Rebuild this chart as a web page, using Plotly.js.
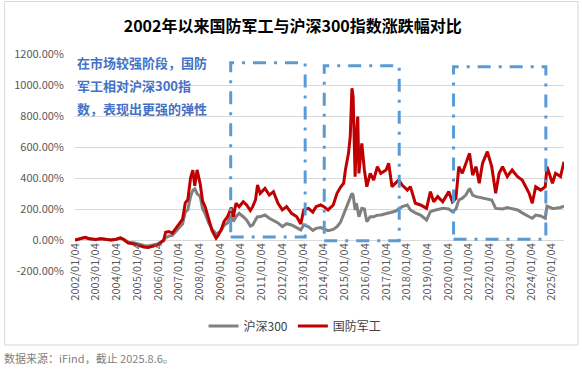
<!DOCTYPE html>
<html>
<head>
<meta charset="utf-8">
<script src="https://cdn.plot.ly/plotly-3.0.1.min.js"></script>
<style>html,body{margin:0;padding:0;background:#fff;}#chart{width:582px;height:371px;}</style>
</head>
<body>
<div id="chart"></div>
<script>
// ---- data ----
const dates = ['2002-01-04','2002-03-01','2002-05-01','2002-07-01','2002-09-01','2002-11-01','2003-01-01','2003-04-01','2003-07-01','2003-10-01',
'2004-01-01','2004-03-15','2004-05-15','2004-08-01','2004-11-01','2005-02-01','2005-05-01','2005-07-15','2005-10-15','2006-01-01',
'2006-03-01','2006-04-15','2006-05-20','2006-07-15','2006-09-15','2006-11-15','2007-01-15','2007-03-15','2007-05-01','2007-06-15',
'2007-08-01','2007-09-10','2007-10-15','2007-11-25','2008-01-20','2008-03-01','2008-04-15','2008-06-15','2008-08-15','2008-10-25',
'2008-12-01','2009-01-20','2009-03-15','2009-05-15','2009-07-20','2009-08-25','2009-10-10','2009-12-05','2010-02-15','2010-04-15',
'2010-06-20','2010-08-01','2010-09-20','2010-10-25','2010-12-10','2011-03-05','2011-05-20','2011-08-01','2011-10-20','2012-01-05',
'2012-03-20','2012-06-15','2012-09-15','2012-11-25','2013-01-15','2013-04-10','2013-06-25','2013-08-20','2013-11-10','2014-01-05',
'2014-03-20','2014-06-20','2014-08-25','2014-10-25','2014-12-20','2015-01-20','2015-03-15','2015-04-15','2015-05-15','2015-06-05',
'2015-06-25','2015-07-10','2015-08-01','2015-08-25','2015-09-15','2015-11-05','2015-12-20','2016-02-01','2016-04-01','2016-06-01',
'2016-08-05','2016-10-05','2017-01-05','2017-02-20','2017-04-20','2017-06-15','2017-08-15','2017-10-15','2018-01-15','2018-03-10',
'2018-06-05','2018-09-05','2018-12-20','2019-02-25','2019-04-25','2019-07-05','2019-10-01','2020-01-15','2020-03-20','2020-05-20',
'2020-07-10','2020-09-10','2020-11-10','2021-01-15','2021-03-10','2021-05-10','2021-07-05','2021-09-01','2021-11-25','2022-02-10',
'2022-04-20','2022-06-20','2022-08-20','2022-11-10','2023-02-05','2023-05-10','2023-08-01','2023-10-01','2023-12-01','2024-01-25',
'2024-03-25','2024-06-20','2024-09-10','2024-10-10','2024-12-10','2025-01-15','2025-03-10','2025-06-05','2025-08-06'];

const hs300 = [0,3,12,14,8,3,2,10,4,0,
5,15,5,-15,-18,-28,-35,-38,-33,-25,
-12,-5,15,25,30,55,80,105,180,195,
280,320,330,300,280,200,170,110,70,40,
45,60,95,110,160,120,150,172,150,130,
90,97,130,150,150,161,140,125,110,86,
105,97,80,65,97,85,62,75,80,72,
60,68,86,115,170,200,250,285,301,290,
230,194,237,200,150,204,200,118,150,150,
160,161,170,175,176,185,200,215,226,194,
175,161,129,183,190,195,204,200,183,200,
258,270,290,333,290,280,275,270,265,258,
204,200,200,209,200,194,175,160,150,140,
161,155,140,219,210,204,205,210,219];

const jungong = [0,5,15,18,10,5,3,8,2,0,
5,12,2,-20,-25,-35,-45,-48,-42,-32,
-15,0,50,55,45,75,110,135,240,260,
398,450,350,452,360,250,215,129,60,12,
30,65,120,150,210,150,237,215,247,226,
190,215,260,355,301,333,290,312,237,194,
215,172,150,103,194,204,180,215,226,215,
194,226,301,340,366,452,559,667,979,925,
667,409,667,796,430,624,452,344,430,387,
473,430,452,495,344,366,387,355,322,344,
237,226,204,312,247,280,247,312,247,269,
473,430,495,559,419,473,366,495,570,473,
301,430,473,409,452,409,387,344,301,237,
344,322,344,473,400,366,430,409,505];

const seriesNames = ['沪深300','国防军工'];
const xTickVals = [];
const xTickText = [];
for (let y = 2002; y <= 2025; y++) { xTickVals.push(y + '-01-04'); xTickText.push(y + '/01/04'); }
const yTickVals = [-200,0,200,400,600,800,1000,1200];
const yTickText = ['-200.00%','0.00%','200.00%','400.00%','600.00%','800.00%','1000.00%','1200.00%'];
const titleText = '2002年以来国防军工与沪深300指数涨跌幅对比';
const noteLines = ['在市场较强阶段，国防','军工相对沪深300指','数，表现出更强的弹性'];
const sourceText = '数据来源：iFind，截止 2025.8.6。';

// ---- chart ----
const FONT = '"Noto Sans CJK SC", "Noto Sans", sans-serif';
const traces = [
  {x: dates, y: hs300, name: seriesNames[0], type: 'scatter', mode: 'lines',
   line: {color: '#808080', width: 3}},
  {x: dates, y: jungong, name: seriesNames[1], type: 'scatter', mode: 'lines',
   line: {color: '#C00000', width: 3}}
];

const boxDash = '13px,8px,3px,8px';
function box(x0, x1, y0, y1) {
  return {type: 'rect', xref: 'x', yref: 'y', x0: x0, x1: x1, y0: y0, y1: y1,
          line: {color: '#5B9BD5', width: 3, dash: boxDash}, fillcolor: 'rgba(0,0,0,0)'};
}

const annotations = noteLines.map((t, i) => ({
  xref: 'paper', yref: 'paper', x: 0.0, y: [0.96, 0.853, 0.747][i],
  xanchor: 'left', yanchor: 'middle', showarrow: false,
  text: '<b>' + t + '</b>', font: {family: FONT, size: 13, color: '#4472C4'}
}));
annotations.push({
  xref: 'paper', yref: 'paper', x: -0.149, y: -0.401, xanchor: 'left', yanchor: 'middle',
  showarrow: false, text: sourceText, font: {family: FONT, size: 11, color: '#7F7F7F'}
});

const layout = {
  width: 582, height: 371,
  margin: {l: 75, r: 18, t: 54, b: 100, pad: 0},
  paper_bgcolor: '#fff', plot_bgcolor: '#fff',
  font: {family: FONT, color: '#595959'},
  title: {text: '<b>' + titleText + '</b>', xref: 'container', yref: 'container',
          x: 0.503, y: 0.93, xanchor: 'center', yanchor: 'middle',
          font: {family: FONT, size: 16, color: '#000'}},
  xaxis: {type: 'date', range: ['2002-01-04', '2025-08-06'],
          tickmode: 'array', tickvals: xTickVals, ticktext: xTickText, tickangle: -90,
          showgrid: false, zeroline: false, showline: false, ticks: '',
          anchor: 'free', position: 0.1429,
          tickfont: {family: FONT, size: 11, color: '#595959'}},
  yaxis: {range: [-200, 1200], tickmode: 'array', tickvals: yTickVals, ticktext: yTickText,
          showgrid: true, gridcolor: '#D9D9D9', gridwidth: 1, zeroline: false, showline: false,
          ticks: '', ticklabelstandoff: 10,
          tickfont: {family: FONT, size: 11, color: '#595959'}},
  legend: {orientation: 'h', x: 0.45, xanchor: 'center', y: -0.253, yanchor: 'middle',
           font: {family: FONT, size: 12, color: '#404040'}, itemwidth: 30, traceorder: 'normal'},
  showlegend: true,
  hovermode: false,
  shapes: [
    box('2009-07-09', '2013-02-10', 19, 1144),
    box('2014-01-12', '2017-08-25', -5, 1124),
    box('2020-04-08', '2024-09-20', 5, 1118),
    {type: 'rect', xref: 'paper', yref: 'paper', x0: -0.144, x1: 1.0286, y0: -0.341, y1: 1.242,
     line: {color: '#D9D9D9', width: 1}, fillcolor: 'rgba(0,0,0,0)'}
  ],
  annotations: annotations
};

Plotly.newPlot('chart', traces, layout, {displayModeBar: false, staticPlot: true});
</script>
</body>
</html>
